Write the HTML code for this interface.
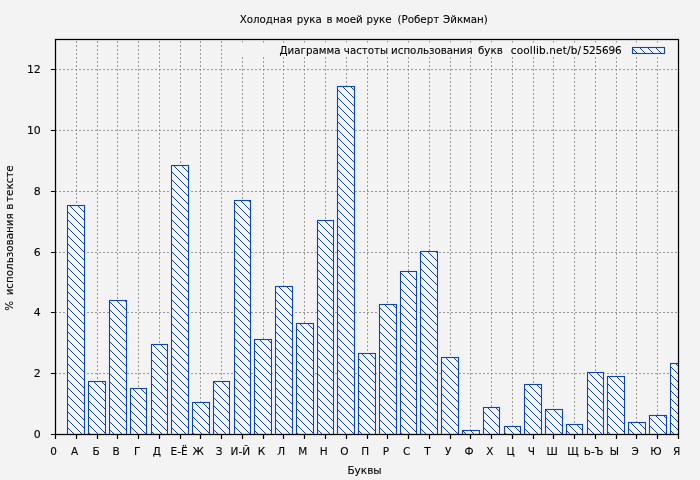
<!DOCTYPE html>
<html lang="ru"><head><meta charset="utf-8"><title>Диаграмма частоты использования букв</title>
<style>html,body{margin:0;padding:0;background:#f3f3f3;overflow:hidden}svg{display:block}text{font-family:"DejaVu Sans","Liberation Sans",sans-serif;font-size:10.5px;fill:#000;stroke:#000;stroke-width:0.1px}</style></head><body>
<svg width="700" height="480" viewBox="0 0 700 480">
<defs><pattern id="h" patternUnits="userSpaceOnUse" x="0" y="0" width="8" height="8"><rect width="8" height="8" fill="#f5f5f4"/><path d="M-1,-1 L9,9 M-1,7 L1,9 M7,-1 L9,1" stroke="#0b46b4" stroke-width="1.0" fill="none"/></pattern>
<clipPath id="c"><rect x="55.5" y="39.5" width="623.0" height="395.0"/></clipPath></defs>
<rect width="700" height="480" fill="#f3f3f3"/>
<path d="M76.50,434.50 V39.50 M97.50,434.50 V39.50 M117.50,434.50 V39.50 M138.50,434.50 V39.50 M159.50,434.50 V39.50 M180.50,434.50 V39.50 M200.50,434.50 V39.50 M221.50,434.50 V39.50 M242.50,434.50 V39.50 M263.50,434.50 V39.50 M283.50,434.50 V39.50 M304.50,434.50 V39.50 M325.50,434.50 V39.50 M346.50,434.50 V39.50 M367.50,434.50 V39.50 M387.50,434.50 V39.50 M408.50,434.50 V39.50 M429.50,434.50 V39.50 M450.50,434.50 V39.50 M470.50,434.50 V39.50 M491.50,434.50 V39.50 M512.50,434.50 V39.50 M533.50,434.50 V39.50 M553.50,434.50 V39.50 M574.50,434.50 V39.50 M595.50,434.50 V39.50 M616.50,434.50 V39.50 M636.50,434.50 V39.50 M657.50,434.50 V39.50" stroke="#999999" stroke-width="1" stroke-dasharray="2 2" stroke-dashoffset="0.5" fill="none"/>
<path d="M55.50,373.50 H678.50 M55.50,312.50 H678.50 M55.50,252.50 H678.50 M55.50,191.50 H678.50 M55.50,130.50 H678.50 M55.50,69.50 H678.50" stroke="#999999" stroke-width="1" stroke-dasharray="2 2" stroke-dashoffset="0.5" fill="none"/>
<rect x="232" y="42.6" width="440" height="14.2" fill="#f3f3f3"/>
<g clip-path="url(#c)" fill="url(#h)" stroke="#0b46b4" stroke-width="1.1">
<rect x="67.5" y="205.5" width="17.0" height="229.0"/>
<rect x="88.5" y="381.5" width="17.0" height="53.0"/>
<rect x="109.5" y="300.5" width="17.0" height="134.0"/>
<rect x="130.5" y="388.5" width="16.0" height="46.0"/>
<rect x="151.5" y="344.5" width="16.0" height="90.0"/>
<rect x="171.5" y="165.5" width="17.0" height="269.0"/>
<rect x="192.5" y="402.5" width="17.0" height="32.0"/>
<rect x="213.5" y="381.5" width="16.0" height="53.0"/>
<rect x="234.5" y="200.5" width="16.0" height="234.0"/>
<rect x="254.5" y="339.5" width="17.0" height="95.0"/>
<rect x="275.5" y="286.5" width="17.0" height="148.0"/>
<rect x="296.5" y="323.5" width="17.0" height="111.0"/>
<rect x="317.5" y="220.5" width="16.0" height="214.0"/>
<rect x="337.5" y="86.5" width="17.0" height="348.0"/>
<rect x="358.5" y="353.5" width="17.0" height="81.0"/>
<rect x="379.5" y="304.5" width="17.0" height="130.0"/>
<rect x="400.5" y="271.5" width="16.0" height="163.0"/>
<rect x="420.5" y="251.5" width="17.0" height="183.0"/>
<rect x="441.5" y="357.5" width="17.0" height="77.0"/>
<rect x="462.5" y="430.5" width="17.0" height="4.0"/>
<rect x="483.5" y="407.5" width="16.0" height="27.0"/>
<rect x="504.5" y="426.5" width="16.0" height="8.0"/>
<rect x="524.5" y="384.5" width="17.0" height="50.0"/>
<rect x="545.5" y="409.5" width="17.0" height="25.0"/>
<rect x="566.5" y="424.5" width="16.0" height="10.0"/>
<rect x="587.5" y="372.5" width="16.0" height="62.0"/>
<rect x="607.5" y="376.5" width="17.0" height="58.0"/>
<rect x="628.5" y="422.5" width="17.0" height="12.0"/>
<rect x="649.5" y="415.5" width="17.0" height="19.0"/>
<rect x="670.5" y="363.5" width="16.0" height="71.0"/>
</g>
<rect x="632.5" y="47.5" width="32" height="6" fill="url(#h)" stroke="#0b46b4" stroke-width="1.1"/>
<path d="M55.50,434.50 v4.5 M76.50,434.50 v4.5 M97.50,434.50 v4.5 M117.50,434.50 v4.5 M138.50,434.50 v4.5 M159.50,434.50 v4.5 M180.50,434.50 v4.5 M200.50,434.50 v4.5 M221.50,434.50 v4.5 M242.50,434.50 v4.5 M263.50,434.50 v4.5 M283.50,434.50 v4.5 M304.50,434.50 v4.5 M325.50,434.50 v4.5 M346.50,434.50 v4.5 M367.50,434.50 v4.5 M387.50,434.50 v4.5 M408.50,434.50 v4.5 M429.50,434.50 v4.5 M450.50,434.50 v4.5 M470.50,434.50 v4.5 M491.50,434.50 v4.5 M512.50,434.50 v4.5 M533.50,434.50 v4.5 M553.50,434.50 v4.5 M574.50,434.50 v4.5 M595.50,434.50 v4.5 M616.50,434.50 v4.5 M636.50,434.50 v4.5 M657.50,434.50 v4.5 M678.50,434.50 v4.5 M55.50,434.50 h-4.6 M55.50,373.50 h-4.6 M55.50,312.50 h-4.6 M55.50,252.50 h-4.6 M55.50,191.50 h-4.6 M55.50,130.50 h-4.6 M55.50,69.50 h-4.6" stroke="#000" stroke-width="1.2" fill="none"/>
<rect x="55.5" y="39.50" width="623.00" height="395.00" fill="none" stroke="#000" stroke-width="1.25"/>
<text y="23" transform="scale(0.98,1)" xml:space="preserve"><tspan x="244.59">Холодная</tspan> <tspan x="302.72">рука</tspan> <tspan x="333.13">в</tspan> <tspan x="342.52">моей</tspan> <tspan x="373.95">руке</tspan> <tspan x="405.63">(Роберт</tspan> <tspan x="452.08">Эйкман)</tspan></text>
<text y="54" transform="scale(0.98,1)" xml:space="preserve"><tspan x="285.20">Диаграмма</tspan> <tspan x="350.87">частоты</tspan> <tspan x="399.05">использования</tspan> <tspan x="487.80">букв</tspan> </text><text x="510.82" y="54"><tspan letter-spacing="0.14">coollib.net/b/</tspan><tspan dx="1.5" letter-spacing="-0.2">525696</tspan></text>
<g text-anchor="end">
<text x="39.23" y="438.0" transform="scale(1.04,1)">0</text>
<text x="39.23" y="377.0" transform="scale(1.04,1)">2</text>
<text x="39.23" y="316.0" transform="scale(1.04,1)">4</text>
<text x="39.23" y="256.0" transform="scale(1.04,1)">6</text>
<text x="39.23" y="195.0" transform="scale(1.04,1)">8</text>
<text x="39.23" y="134.0" transform="scale(1.04,1)">10</text>
<text x="39.23" y="73.0" transform="scale(1.04,1)">12</text>
</g><g text-anchor="middle">
<text x="53.7" y="455">0</text>
<text x="74.5" y="455">А</text>
<text x="96.0" y="455">Б</text>
<text x="116.0" y="455">В</text>
<text x="137.3" y="455">Г</text>
<text x="156.9" y="455">Д</text>
<text x="179.1" y="455">Е-Ё</text>
<text x="198.1" y="455">Ж</text>
<text x="219.1" y="455">З</text>
<text x="240.3" y="455">И-Й</text>
<text x="261.4" y="455">К</text>
<text x="281.3" y="455">Л</text>
<text x="302.9" y="455">М</text>
<text x="323.7" y="455">Н</text>
<text x="344.4" y="455">О</text>
<text x="365.2" y="455">П</text>
<text x="386.0" y="455">Р</text>
<text x="406.7" y="455">С</text>
<text x="427.5" y="455">Т</text>
<text x="448.3" y="455">У</text>
<text x="469.0" y="455">Ф</text>
<text x="489.8" y="455">Х</text>
<text x="510.6" y="455">Ц</text>
<text x="531.3" y="455">Ч</text>
<text x="552.1" y="455">Ш</text>
<text x="572.9" y="455">Щ</text>
<text x="593.6" y="455">Ь-Ъ</text>
<text x="614.4" y="455">Ы</text>
<text x="635.2" y="455">Э</text>
<text x="655.9" y="455">Ю</text>
<text x="676.7" y="455">Я</text>
<text x="364.5" y="474">Буквы</text>
<text text-anchor="start" transform="translate(12.6,0) rotate(-90) scale(0.985,1)"><tspan x="-315.43">%</tspan> <tspan x="-299.85">использования</tspan> <tspan x="-212.99">в</tspan> <tspan x="-205.03">тексте</tspan></text>
</g></svg></body></html>
